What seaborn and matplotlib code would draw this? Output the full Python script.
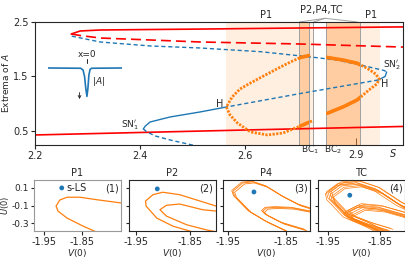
import numpy as np
import pandas as pd
import seaborn as sns
import matplotlib.pyplot as plt
from matplotlib.transforms import blended_transform_factory

sns.set_style("ticks")
plt.rcParams["font.family"] = ["DejaVu Sans"]
plt.rcParams["font.size"] = 7
plt.rcParams["axes.unicode_minus"] = False
plt.rcParams["mathtext.fontset"] = "dejavusans"

RED = "#ff0000"
BLUE = "#1f77b4"
ORANGE = "#ff7f0e"

# ---------------- bifurcation diagram data ----------------
red_up_s = [2.269, 2.286, 2.324, 2.419, 2.514, 2.705, 2.9]
red_up_A = [2.28, 2.335, 2.353, 2.362, 2.37, 2.39, 2.41]
red_dash_s = [2.269, 2.286, 2.324, 2.419, 2.514, 2.705, 2.9]
red_dash_A = [2.28, 2.252, 2.206, 2.17, 2.133, 2.096, 2.04]
red_low_s = [2.2, 2.6, 2.9]
red_low_A = [0.427, 0.518, 0.583]

blue1_s = [2.270, 2.324, 2.419, 2.514, 2.629, 2.730, 2.775, 2.819, 2.851, 2.864, 2.869]
blue1_A = [2.24, 2.133, 2.06, 2.023, 1.955, 1.852, 1.80, 1.711, 1.64, 1.61, 1.583]
blue2_s = [2.869, 2.866, 2.853]
blue2_A = [1.583, 1.50, 1.436]
blue3_s = [2.853, 2.705, 2.564]
blue3_A = [1.436, 1.188, 0.940]
blue4_s = [2.564, 2.514, 2.457, 2.419, 2.410, 2.406]
blue4_A = [0.940, 0.849, 0.757, 0.665, 0.592, 0.537]
blue5_s = [2.406, 2.413, 2.429, 2.457, 2.499, 2.52]
blue5_A = [0.537, 0.482, 0.408, 0.335, 0.243, 0.20]

loopL_s = [2.727, 2.705, 2.672, 2.642, 2.610, 2.585, 2.571, 2.564, 2.575, 2.590,
           2.610, 2.642, 2.667, 2.686, 2.705, 2.726]
loopL_A = [0.683, 0.592, 0.463, 0.427, 0.482, 0.647, 0.794, 0.940, 1.124, 1.271,
           1.381, 1.546, 1.674, 1.766, 1.849, 1.894]
loopR_s = [2.754, 2.787, 2.813, 2.832, 2.848, 2.855, 2.850, 2.835, 2.813, 2.787, 2.756]
loopR_A = [1.852, 1.80, 1.742, 1.65, 1.546, 1.45, 1.36, 1.25, 1.07, 0.946, 0.825]

p1_bands = [(2.564, 2.728), (2.754, 2.857)]
dark_bands = [(2.703, 2.722), (2.754, 2.819)]
band_lines = [2.703, 2.722, 2.728, 2.754, 2.819]

# inset pulse profile
pulse_x = [-10, -1.6, -1.0, -0.6, -0.3, 0, 0.25, 0.5, 0.8, 1.2, 9]
pulse_A = [1.0, 0.99, 0.93, 0.7, 0.3, 0.02, 0.3, 0.75, 0.95, 0.99, 1.0]

# ---------------- phase portraits ----------------
p1_v = [-1.747, -1.811, -1.855, -1.889, -1.908, -1.918, -1.913, -1.889, -1.847, -1.811, -1.79]
p1_u = [-0.071, -0.034, -0.006, -0.006, -0.037, -0.106, -0.163, -0.243, -0.334, -0.403, -0.45]

p2_out_v = [-1.801, -1.831, -1.869, -1.901, -1.919, -1.933, -1.932, -1.912, -1.882, -1.85, -1.83]
p2_out_u = [-0.106, -0.049, 0.023, 0.051, 0.023, -0.049, -0.106, -0.243, -0.334, -0.391, -0.43]
p2_in_v = [-1.801, -1.826, -1.869, -1.894, -1.906, -1.894, -1.856, -1.819, -1.80]
p2_in_u = [-0.163, -0.148, -0.083, -0.098, -0.148, -0.22, -0.319, -0.377, -0.40]

p4_out_v = [-1.80, -1.81, -1.828, -1.856, -1.884, -1.907, -1.924, -1.941, -1.938, -1.913, -1.884, -1.848]
p4_out_u = [-0.15, -0.129, -0.091, 0.005, 0.119, 0.169, 0.157, 0.062, 0.005, -0.166, -0.281, -0.395]
p4_in_v = [-1.80, -1.81, -1.839, -1.867, -1.884, -1.89, -1.884, -1.856, -1.817]
p4_in_u = [-0.175, -0.166, -0.129, -0.121, -0.129, -0.166, -0.205, -0.3, -0.377]
p4_shift = [(0, 0), (0.003, -0.012), (-0.002, 0.008)]

tc_out_v = [-1.79, -1.812, -1.856, -1.895, -1.927, -1.949, -1.946, -1.914, -1.876, -1.85]
tc_out_u = [-0.15, -0.091, 0.081, 0.157, 0.138, 0.043, -0.026, -0.223, -0.319, -0.395]
tc_in_v = [-1.79, -1.85, -1.888, -1.914, -1.904, -1.869, -1.831]
tc_in_u = [-0.23, -0.129, -0.109, -0.186, -0.243, -0.323, -0.391]
tc_shift = [(0, 0), (0.004, -0.015), (0.008, -0.03), (-0.004, 0.012), (0.006, 0.02),
            (0.01, -0.045), (-0.006, -0.01), (0.002, 0.03)]

panels = ["P1", "P2", "P4", "TC"]
dots_v = [-1.903, -1.911, -1.905, -1.908]
dots_u = [0.10, 0.089, 0.054, 0.017]
xlims = [(-1.976, -1.747), (-1.964, -1.801), (-1.958, -1.809), (-1.969, -1.802)]


def curve(ax, s, a, color, ls="-", lw=1.1, **kw):
    sns.lineplot(x=s, y=a, ax=ax, color=color, linestyle=ls, lw=lw,
                 sort=False, estimator=None, legend=False, **kw)
    return ax.lines[-1]


fig = plt.figure(figsize=(4.05, 2.59), dpi=100)

# ================= top panel =================
ax = fig.add_axes([0.0864, 0.4402, 0.9086, 0.4749])
ax.set_xlim(2.2, 2.9)
ax.set_ylim(0.243, 2.5)

for a, b in p1_bands:
    ax.axvspan(a, b, color=ORANGE, alpha=0.12, lw=0)
dark_patches = [ax.axvspan(a, b, color=ORANGE, alpha=0.3, lw=0) for a, b in dark_bands]
for x in band_lines:
    ax.axvline(x, color="#a0a0a0", lw=0.7)

curve(ax, red_up_s, red_up_A, RED, lw=1.2)
curve(ax, red_dash_s, red_dash_A, RED, ls=(0, (6, 3)), lw=1.2)
curve(ax, red_low_s, red_low_A, RED, lw=1.2)

curve(ax, blue1_s, blue1_A, BLUE, ls=(0, (3, 2)), lw=1.0)
curve(ax, blue2_s, blue2_A, BLUE, lw=1.0)
curve(ax, blue3_s, blue3_A, BLUE, ls=(0, (3, 2)), lw=1.0)
curve(ax, blue4_s, blue4_A, BLUE, lw=1.0)
curve(ax, blue5_s, blue5_A, BLUE, ls=(0, (3, 2)), lw=1.0)

for s, a in [(loopL_s, loopL_A), (loopR_s, loopR_A)]:
    curve(ax, s, a, ORANGE, ls=(0, (0.8, 0.5)), lw=2.0)
    for p in dark_patches:
        ln = curve(ax, s, a, ORANGE, lw=2.6)
        ln.set_clip_path(p)

ax.set_xticks([2.2, 2.4, 2.6])
ax.set_xticks([2.811], minor=True)
ax.set_xticklabels(["2.9"], minor=True)
ax.tick_params(which="minor", direction="in", length=5, labelsize=7, pad=3.5)
ax.set_yticks([0.5, 1.5, 2.5])
ax.tick_params(which="major", length=3, labelsize=7, pad=1.5)
ax.set_ylabel("Extrema of $A$", fontsize=6.5)
ax.yaxis.set_label_coords(-0.066, 0.5)

ax.text(2.398, 0.61, "SN$_1'$", ha="right", va="center", fontsize=6.5)
ax.text(2.880, 1.70, "SN$_2'$", ha="center", va="center", fontsize=6.5)
ax.text(2.552, 1.0, "H", ha="center", va="center", fontsize=7)
ax.text(2.866, 1.36, "H", ha="center", va="center", fontsize=7)

tr = blended_transform_factory(ax.transData, ax.transAxes)
ax.text(2.724, -0.04, "BC$_1$", transform=tr, ha="center", va="center", fontsize=6.5)
ax.text(2.767, -0.04, "BC$_2$", transform=tr, ha="center", va="center", fontsize=6.5)
ax.text(2.88, -0.065, "$S$", transform=tr, ha="center", va="center", fontsize=7)
ax.text(2.64, 1.057, "P1", transform=tr, ha="center", va="center", fontsize=7)
ax.text(2.84, 1.057, "P1", transform=tr, ha="center", va="center", fontsize=7)
ax.text(2.745, 1.098, "P2,P4,TC", transform=tr, ha="center", va="center", fontsize=7)
for xe in [2.703, 2.730, 2.813]:
    ax.plot([2.752, xe], [1.03, 1.0], transform=tr, color="#a0a0a0", lw=0.7, clip_on=False)

# inset pulse
ins = fig.add_axes([0.1185, 0.614, 0.1827, 0.139])
ins.set_xlim(-10, 9)
ins.set_ylim(-0.103, 1.138)
ins.axis("off")
curve(ins, pulse_x, pulse_A, BLUE, lw=1.2)
ins.plot([0, 0], [1.16, 1.31], color="#222222", lw=0.7, clip_on=False)
ins.text(0, 1.45, "x=0", ha="center", va="center", fontsize=6.5)
ins.text(1.3, 0.52, "$|A|$", ha="left", va="center", fontsize=6.5)
ins.annotate("", xy=(-1.9, -0.17), xytext=(-1.9, 0.25),
             arrowprops=dict(arrowstyle="->", lw=0.6, color="#222222", mutation_scale=5),
             annotation_clip=False)

# ================= bottom panels =================
lefts = [0.084, 0.3185, 0.5506, 0.7852]
for i, name in enumerate(panels):
    bx = fig.add_axes([lefts[i], 0.1081, 0.2148, 0.1969])
    bx.set_xlim(*xlims[i])
    bx.set_ylim(-0.39, 0.19)
    if i == 0:
        curve(bx, p1_v, p1_u, ORANGE, lw=0.9)
    elif i == 1:
        curve(bx, p2_out_v, p2_out_u, ORANGE, lw=0.9)
        curve(bx, p2_in_v, p2_in_u, ORANGE, lw=0.9)
    elif i == 2:
        for dv, du in p4_shift:
            curve(bx, [v + dv for v in p4_out_v], [u + du for u in p4_out_u], ORANGE, lw=0.6)
            curve(bx, [v + dv for v in p4_in_v], [u + du for u in p4_in_u], ORANGE, lw=0.6)
    else:
        for dv, du in tc_shift:
            curve(bx, [v + dv for v in tc_out_v], [u + du for u in tc_out_u], ORANGE, lw=0.5)
            curve(bx, [v + dv for v in tc_in_v], [u + du for u in tc_in_u], ORANGE, lw=0.5)
    sns.scatterplot(x=[dots_v[i]], y=[dots_u[i]], ax=bx, color=BLUE, s=12,
                    edgecolor="none", zorder=5, legend=False)
    if i == 0:
        bx.annotate("s-LS", (dots_v[i], dots_u[i]), xytext=(3, 0),
                    textcoords="offset points", va="center", fontsize=7)
        for sp in bx.spines.values():
            sp.set_color("#999999")
    bx.text(0.97, 0.93, f"({i + 1})", transform=bx.transAxes, ha="right", va="top", fontsize=7)
    bx.set_title(name, fontsize=7, pad=3)
    bx.set_xticks([-1.95, -1.85])
    bx.set_yticks([0.1, -0.1, -0.3])
    bx.tick_params(axis="x", length=3, labelsize=7, pad=1.5)
    bx.tick_params(axis="y", length=2.5, labelsize=6.5, pad=1)
    bx.set_xlabel("$V(0)$", fontsize=6.5, labelpad=-0.5)
    if i == 0:
        bx.set_ylabel("$U(0)$", fontsize=6)
        bx.yaxis.set_label_coords(-0.26, 0.5)
    else:
        bx.set_yticklabels([])

fig.savefig("out.png", dpi=100)
